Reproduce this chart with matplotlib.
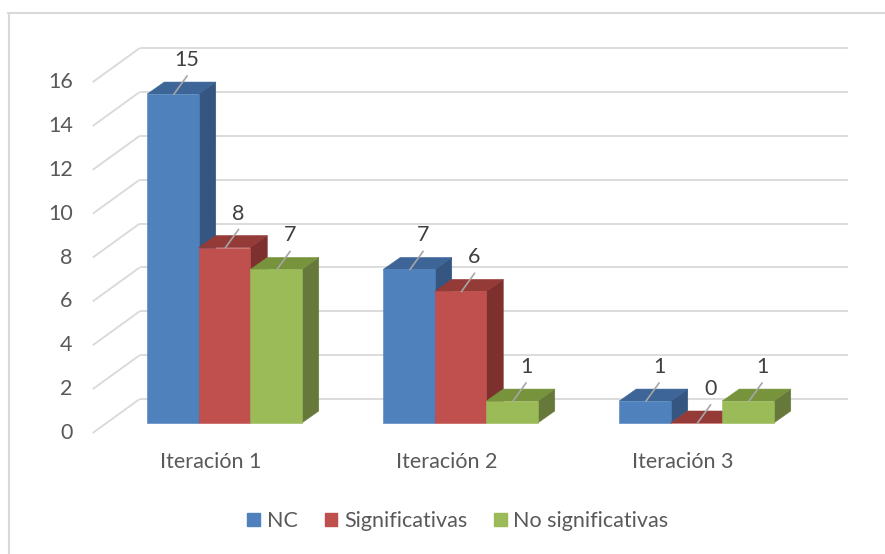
import matplotlib
matplotlib.use("Agg")
import matplotlib.pyplot as plt
from matplotlib.patches import Polygon, Patch
from matplotlib.lines import Line2D

# ---- data ----
categories = ["Iteración 1", "Iteración 2", "Iteración 3"]
series_names = ["NC", "Significativas", "No significativas"]
nc = [15, 7, 1]
significativas = [8, 6, 0]
no_significativas = [7, 1, 1]
y_ticks = [0, 2, 4, 6, 8, 10, 12, 14, 16]

# ---- style ----
front_cols = ["#4F81BD", "#C0504D", "#9BBB59"]
top_cols = ["#3D6597", "#943A37", "#77933C"]
side_cols = ["#355681", "#7D302E", "#66793A"]
grid_col = "#D9D9D9"
text_col = "#595959"
FONT = "Lato"
FS = 15.5

W, H = 885, 554
fig = plt.figure(figsize=(W / 100, H / 100), dpi=100)
ax = fig.add_axes([0, 0, 1, 1])
ax.axis("off")

# pixel scale of the front plane
PX_X = 236.0     # px per category unit
PX_Y = 21.93     # px per value unit
X0_PX = 224.5    # px position of category 0
Y0_PX = 423.0    # px position of value 0 (from top)
ax.set_xlim(-X0_PX / PX_X, (W - X0_PX) / PX_X)
ax.set_ylim((Y0_PX - H) / PX_Y, Y0_PX / PX_Y)

def dx(px):
    return px / PX_X

def dy(px):  # px upward
    return px / PX_Y

# wall geometry (offsets relative to the bar front plane)
back = (dx(33.2), dy(24))
front_edge = (dx(-13.8), dy(-10))
x_left, x_right = -0.5, 2.5

# gridlines on back wall and left wall
for v in y_ticks:
    ax.add_line(Line2D([x_left + back[0], x_right + back[0]], [v + back[1], v + back[1]],
                       color=grid_col, lw=1.3, zorder=1, solid_capstyle="butt"))
    ax.add_line(Line2D([x_left + front_edge[0], x_left + back[0]],
                       [v + front_edge[1], v + back[1]],
                       color=grid_col, lw=1.3, zorder=1, solid_capstyle="butt"))
    ax.text(x_left + front_edge[0] - dx(20), v + front_edge[1], str(v),
            ha="right", va="center", fontsize=FS, color=text_col, family=FONT)

# bars
series = [nc, significativas, no_significativas]
bw = 51.5 / PX_X
ddx, ddy = dx(17), dy(12)
z = 2
for ci in range(len(categories)):
    for si, vals in enumerate(series):
        v = vals[ci]
        x0 = ci + (si - 1.5) * bw
        x1 = x0 + bw
        side = Polygon([(x1, 0), (x1 + ddx, ddy), (x1 + ddx, v + ddy), (x1, v)],
                       closed=True, fc=side_cols[si], ec=side_cols[si], lw=0.4, zorder=z)
        top = Polygon([(x0, v), (x1, v), (x1 + ddx, v + ddy), (x0 + ddx, v + ddy)],
                      closed=True, fc=top_cols[si], ec=top_cols[si], lw=0.4, zorder=z)
        front = Polygon([(x0, 0), (x1, 0), (x1, v), (x0, v)], closed=True,
                        fc=front_cols[si], ec=front_cols[si], lw=0.4, zorder=z)
        for p in (side, top, front):
            ax.add_patch(p)
        z += 0.01
        cx = (x0 + x1) / 2
        ax.add_line(Line2D([cx + dx(1), cx + dx(14)], [v, v + dy(18)],
                           color="#A6A6A6", lw=1.2, zorder=5))
        ax.text(cx + dx(14), v + dy(34), str(v), ha="center", va="center",
                fontsize=FS, color="#404040", family=FONT, zorder=6)

# category labels
for ci, cat in enumerate(categories):
    ax.text(ci + front_edge[0], front_edge[1] - dy(29), cat, ha="center", va="center",
            fontsize=FS, color=text_col, family=FONT)

# legend
handles = [Patch(fc=c, ec=c) for c in front_cols]
leg = fig.legend(handles, series_names, loc="center", bbox_to_anchor=(458 / W, 1 - 521 / H),
                 ncol=3, frameon=False, handlelength=0.6, handleheight=0.6,
                 handletextpad=0.3, columnspacing=1.25,
                 prop={"family": FONT, "size": FS})
for t in leg.get_texts():
    t.set_color(text_col)

# chart border (top and left visible)
fig.add_artist(Line2D([8 / W, 1], [1 - 13 / H, 1 - 13 / H], transform=fig.transFigure,
                      color=grid_col, lw=1.5))
fig.add_artist(Line2D([9 / W, 9 / W], [1 - 13 / H, 0], transform=fig.transFigure,
                      color=grid_col, lw=1.5))

fig.savefig("out.png", dpi=100, facecolor="white")
